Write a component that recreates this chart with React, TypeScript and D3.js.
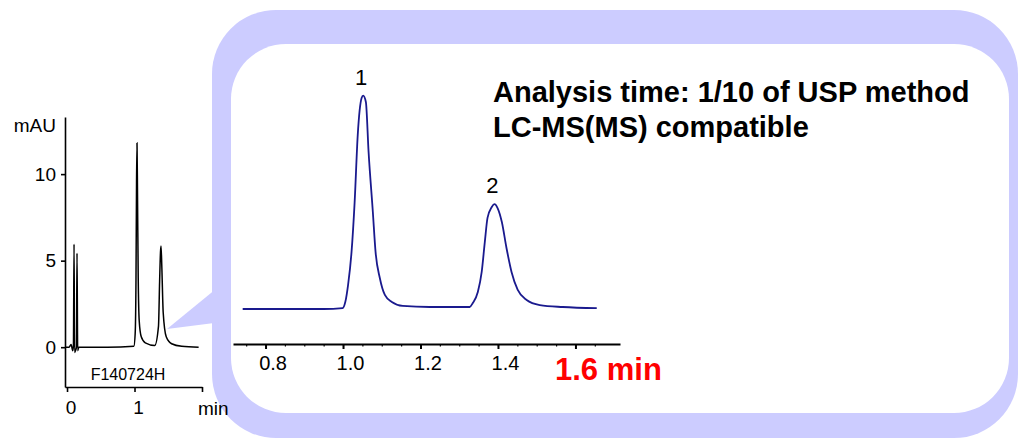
import React, { useRef, useEffect } from 'react'
import { scaleLinear, select, line, curveMonotoneX, axisBottom, axisLeft, range } from 'd3'

// full run (small chromatogram, mAU vs min)
const fullTime = [-0.02, 0.03, 0.06, 0.085, 0.095, 0.104, 0.112, 0.125, 0.14, 0.148, 0.158, 0.175, 0.3, 0.6, 0.99, 1.01, 1.022, 1.03, 1.037, 1.045, 1.055, 1.07, 1.1, 1.16, 1.3, 1.355, 1.372, 1.385, 1.393, 1.405, 1.425, 1.47, 1.55, 1.7, 1.95]
const fullSignal = [0, 0, 0.15, -0.2, 0.1, 5.95, -0.3, -0.2, 0, 5.43, -0.2, 0, 0, 0, 0.05, 0.8, 4, 9.5, 11.8, 8.5, 4, 1.5, 0.6, 0.25, 0.1, 1.2, 3.8, 5.5, 5.85, 4.6, 2, 0.6, 0.2, 0.05, 0]

// zoomed window 0.74 - 1.66 min
const zoomTime = [0.741, 0.85, 0.95, 0.999, 1.006, 1.013, 1.022, 1.03, 1.038, 1.048, 1.052, 1.059, 1.066, 1.077, 1.084, 1.095, 1.108, 1.126, 1.154, 1.224, 1.327, 1.335, 1.348, 1.358, 1.366, 1.373, 1.384, 1.391, 1.399, 1.41, 1.422, 1.435, 1.451, 1.474, 1.508, 1.567, 1.655]
const zoomSignal = [0, 0, 0, 0.05, 0.4, 1.33, 3.17, 5.94, 9.67, 11.72, 11.85, 11.5, 8.72, 5.39, 3.17, 1.72, 0.78, 0.39, 0.17, 0.11, 0.11, 0.33, 0.94, 2.06, 3.72, 5.06, 5.67, 5.83, 5.61, 4.83, 3.39, 2.06, 1.06, 0.5, 0.22, 0.11, 0.05]

const peakLabels = ['1', '2']
const peakTimes = [1.052, 1.391]
const peakHeights = [11.85, 5.83]

const smallYTicks = [0, 5, 10]
const smallXTicks = [0, 1, 2]
const zoomMajorTicks = [0.8, 1.0, 1.2, 1.4, 1.6]
const zoomMinorTicks = range(0.75, 1.66, 0.05)

const notes = ['Analysis time: 1/10 of USP method', 'LC-MS(MS) compatible']
const sampleName = 'F140724H'

const FONT = '"Liberation Sans", Arial, Helvetica, sans-serif'
const LAV = '#ccccff'

export default function App() {
  const canvas = useRef(null)

  useEffect(() => {
    const svg = select(canvas.current)
    svg.selectAll('*').remove()
    svg.attr('font-family', FONT)

    // callout frame
    svg.append('rect').attr('x', 212).attr('y', 10).attr('width', 806).attr('height', 428).attr('rx', 64).attr('fill', LAV)
    svg.append('path').attr('d', 'M167,329 L222,284 L222,322 Z').attr('fill', LAV)
    svg.append('rect').attr('x', 231).attr('y', 44).attr('width', 778).attr('height', 369).attr('rx', 55).attr('fill', '#fff')

    // small chromatogram
    const sx = scaleLinear().domain([-0.03, 2]).range([65, 202])
    const sy = scaleLinear().domain([-2.3, 13.3]).range([387, 117])

    const sg = svg.append('g')
    const yAx = sg.append('g').attr('transform', 'translate(65,0)')
      .call(axisLeft(sy).tickValues(smallYTicks).tickSize(4).tickSizeOuter(0).tickPadding(5).tickFormat(d => String(d)))
    const xAx = sg.append('g').attr('transform', 'translate(0,387)')
      .call(axisBottom(sx).tickValues(smallXTicks).tickSize(5).tickSizeOuter(0).tickPadding(9).tickFormat(d => (d === 2 ? '' : String(d))))
    ;[yAx, xAx].forEach(a => {
      a.selectAll('path, line').attr('stroke', '#000').attr('stroke-width', 1.6)
      a.selectAll('text').attr('font-family', FONT).attr('font-size', 19).attr('fill', '#000')
    })
    xAx.selectAll('text').attr('dx', 3.5)

    sg.append('text').attr('x', 198).attr('y', 415).attr('font-size', 19).text('min')
    sg.append('text').attr('x', 56).attr('y', 132).attr('font-size', 19).attr('text-anchor', 'end').text('mAU')
    sg.append('text').attr('x', 128).attr('y', 380).attr('font-size', 16).attr('text-anchor', 'middle').text(sampleName)

    const fullLine = line<number>().x((d, i) => sx(fullTime[i])).y(d => sy(d)).curve(curveMonotoneX)
    sg.append('path').datum(fullSignal).attr('d', fullLine).attr('fill', 'none').attr('stroke', '#000').attr('stroke-width', 1.5)

    // zoomed chromatogram
    const zx = scaleLinear().domain([0.716, 1.715]).range([233, 620])
    const zy = scaleLinear().domain([0, 12]).range([309, 93])

    const zg = svg.append('g')
    const minor = zg.append('g').attr('transform', 'translate(0,344)')
      .call(axisBottom(zx).tickValues(zoomMinorTicks).tickSize(2.5).tickSizeOuter(0).tickFormat(() => ''))
    minor.select('.domain').remove()
    minor.selectAll('line').attr('stroke', '#000').attr('stroke-width', 1.2)

    const zAx = zg.append('g').attr('transform', 'translate(0,344)')
      .call(axisBottom(zx).tickValues(zoomMajorTicks).tickSize(5).tickSizeOuter(0).tickPadding(7)
        .tickFormat(d => (Math.abs(+d - 1.6) < 1e-6 ? '' : (+d).toFixed(1))))
    zAx.selectAll('path, line').attr('stroke', '#000').attr('stroke-width', 2)
    zAx.selectAll('text').attr('font-family', FONT).attr('font-size', 20).attr('fill', '#000').attr('dx', 7)

    zg.append('text').attr('x', 555).attr('y', 380).attr('font-size', 31).attr('font-weight', 'bold').attr('fill', '#ff0000').text('1.6 min')

    const zoomLine = line<number>().x((d, i) => zx(zoomTime[i])).y(d => zy(d)).curve(curveMonotoneX)
    zg.append('path').datum(zoomSignal).attr('d', zoomLine).attr('fill', 'none').attr('stroke', '#1a1a8e').attr('stroke-width', 1.8)

    zg.selectAll('text.peak').data(peakLabels).enter().append('text').attr('class', 'peak')
      .attr('x', (d, i) => zx(peakTimes[i]) - 2)
      .attr('y', (d, i) => zy(peakHeights[i]) - 11)
      .attr('font-size', 22).attr('text-anchor', 'middle').text(d => d)

    zg.selectAll('text.note').data(notes).enter().append('text').attr('class', 'note')
      .attr('x', 493).attr('y', (d, i) => 102 + i * 35)
      .attr('font-size', 29).attr('font-weight', 'bold').text(d => d)
  }, [])

  return (
    <svg ref={canvas} width={1018} height={444} style={{ position: 'absolute', left: 0, top: 0, background: '#fff' }} />
  )
}
